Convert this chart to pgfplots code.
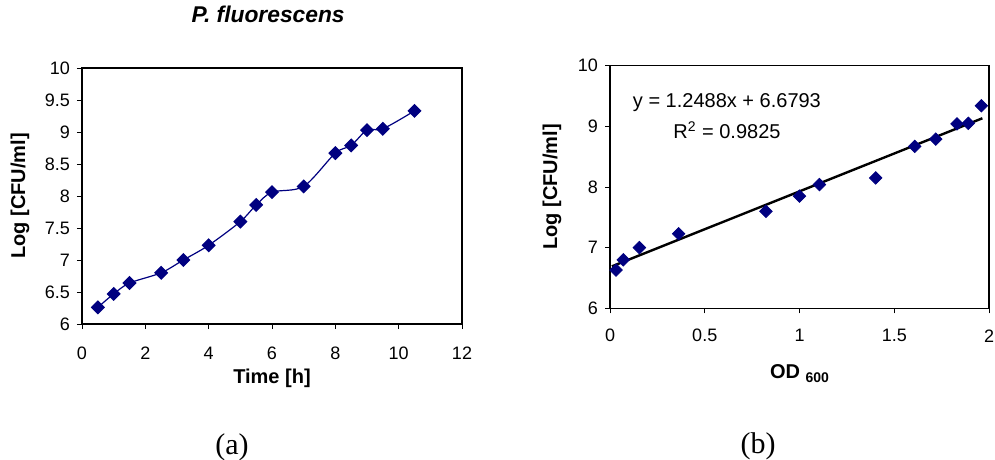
\documentclass[border=0pt]{standalone}
\usepackage{fontspec}
\setmainfont{Liberation Sans}
\newfontfamily\timesfont{Liberation Serif}
\usepackage{pgfplots}
\pgfplotsset{compat=1.18}
\definecolor{navy}{RGB}{0,0,128}
\begin{document}
\begin{tikzpicture}
\useasboundingbox (0,0) rectangle (497.5pt,-230pt);
\pgfplotsset{
  common/.style={
    scale only axis,
    anchor=south west,
    axis line style={black, line width=0.6pt},
    tick align=outside,
    tick pos=left,
    major tick length=2.5pt,
    tick style={black, line width=0.5pt},
    ticklabel style={font=\fontsize{9}{10}\selectfont},
    /pgf/number format/assume math mode=true,
    yticklabel style={anchor=east},
    every axis y label/.style={rotate=90, anchor=center, font=\bfseries\fontsize{10}{12}\selectfont},
    every axis x label/.style={anchor=center, font=\bfseries\fontsize{10}{12}\selectfont},
  },
  dmark/.style={only marks, mark=square*, mark size=2.2pt, mark options={rotate=45, fill=navy, draw=navy}},
}
% (a) growth curve
\begin{axis}[common, at={(41pt,-162pt)}, width=190pt, height=128pt,
  xmin=0, xmax=12, ymin=6, ymax=10,
  xtick={0,2,4,6,8,10,12}, ytick={6,6.5,7,7.5,8,8.5,9,9.5,10},
  xticklabel style={anchor=center, yshift=-12pt},
  xlabel={Time [h]}, ylabel={Log [CFU/ml]},
  x label style={at={(axis description cs:0.5,-0.211)}},
  y label style={at={(axis description cs:-0.163,0.5)}},
  title={\bfseries\itshape\fontsize{11.4}{13}\selectfont P. fluorescens},
  title style={at={(axis description cs:0.49,1.164)}, anchor=center},
]
\addplot[navy, line width=0.6pt, smooth, tension=0.5, mark=square*, mark size=2.2pt, mark options={rotate=45, fill=navy, draw=navy}] coordinates {
(0.5,6.26) (1.0,6.47) (1.5,6.64) (2.5,6.80) (3.2,7.00) (4.0,7.23) (5.0,7.60) (5.5,7.86) (6.0,8.06) (7.0,8.15) (8.0,8.67) (8.5,8.79) (9.0,9.03) (9.5,9.05) (10.5,9.33)
};
\end{axis}
% (b) calibration
\begin{axis}[common, at={(305pt,-154.15pt)}, width=189.5pt, height=121.3pt,
  xmin=0, xmax=2, ymin=6, ymax=10,
  xtick={0,0.5,1,1.5,2}, ytick={6,7,8,9,10},
  xticklabel style={anchor=center, yshift=-11.25pt},
  xlabel={OD {\fontsize{7}{8}\selectfont\raisebox{-2pt}{600}}}, ylabel={Log [CFU/ml]},
  x label style={at={(axis description cs:0.5,-0.271)}},
  y label style={at={(axis description cs:-0.153,0.5)}},
]
\addplot[dmark] coordinates {
(0.032,6.63) (0.07,6.80) (0.155,7.00) (0.362,7.23) (0.823,7.60) (1.0,7.85) (1.105,8.04) (1.402,8.15) (1.608,8.67) (1.719,8.79) (1.831,9.04) (1.891,9.05) (1.96,9.34)
};
\addplot[black, line width=1.2pt] coordinates {(0.01,6.6918) (1.965,9.1332)};
\node[anchor=center, font=\fontsize{10}{12}\selectfont] at (axis cs:0.617,9.40) {y = 1.2488x + 6.6793};
\node[anchor=center, font=\fontsize{10}{12}\selectfont] at (axis cs:0.617,8.94) {R\textsuperscript{2} = 0.9825};
\end{axis}
\node[font=\timesfont\fontsize{15}{17}\selectfont] at (116pt,-223.5pt) {(a)};
\node[font=\timesfont\fontsize{15}{17}\selectfont] at (379pt,-223pt) {(b)};
\end{tikzpicture}
\end{document}
